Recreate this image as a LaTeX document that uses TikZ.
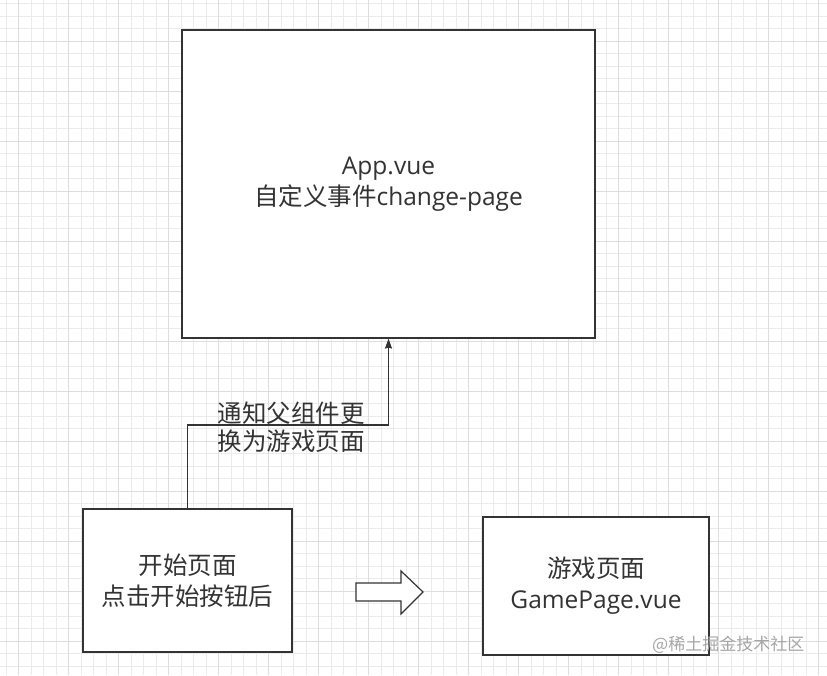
\documentclass[tikz,border=0pt]{standalone}
\usepackage{fontspec}
\setmainfont{Noto Sans CJK SC}
\newfontfamily\lat{Open Sans}
\usetikzlibrary{arrows.meta}
\definecolor{gridminor}{HTML}{EBEBEB}
\definecolor{gridmajor}{HTML}{DDDDDD}
\definecolor{ink}{HTML}{333333}
\tikzset{
  box/.style={draw=ink, line width=1.2pt, fill=white, rectangle, inner sep=0pt,
    text=ink, align=center, font=\fontsize{24.5}{31}\selectfont},
  conn/.style={draw=ink, line width=1.3pt, -{Stealth[length=10pt,width=7pt,inset=1pt]}},
  lbl/.style={text=ink, align=center, font=\fontsize{24.5}{28}\selectfont, inner sep=0pt},
}
\begin{document}
\begin{tikzpicture}[x=1pt,y=-1pt]
\useasboundingbox (0,0) rectangle (827,675);
\fill[white] (0,0) rectangle (827,675);
% grid
\foreach \i in {0,...,66} {
  \draw[gridminor, line width=0.6pt] ({5.8+12.5*\i},0) -- ({5.8+12.5*\i},675);
}
\foreach \i in {0,...,54} {
  \draw[gridminor, line width=0.6pt] (0,{3.5+12.5*\i}) -- (827,{3.5+12.5*\i});
}
\foreach \i in {0,...,16} {
  \draw[gridmajor, line width=0.8pt] ({18.3+50*\i},0) -- ({18.3+50*\i},675);
}
\foreach \i in {0,...,13} {
  \draw[gridmajor, line width=0.8pt] (0,{41+50*\i}) -- (827,{41+50*\i});
}
% boxes
\node[box, minimum width=413pt, minimum height=308pt] (app) at (388.5,184)
  {{\lat App.vue}\\自定义事件{\lat change-page}};
\node[box, minimum width=209pt, minimum height=143pt] (start) at (187.5,580.5)
  {开始页面\\点击开始按钮后};
\node[box, minimum width=226pt, minimum height=138pt] (game) at (596,586)
  {游戏页面\\{\lat GamePage.vue}};
% connector
\coordinate (bend) at (187.5,425);
\draw[conn] (start.north) -- (bend) -| (app.south);
\node[lbl] (note) at (291,427) {通知父组件更\\换为游戏页面};
% block arrow
\filldraw[draw=ink, fill=white, line width=1.2pt, line join=miter]
  (356,583) -- (401,583) -- (401,571) -- (423,592) -- (401,614) -- (401,601) -- (356,601) -- cycle;
% watermark
\node[text=black!35, font=\fontsize{17}{17}\selectfont, anchor=west, inner sep=0pt] (wm) at (652,645) {@稀土掘金技术社区};
\end{tikzpicture}
\end{document}
